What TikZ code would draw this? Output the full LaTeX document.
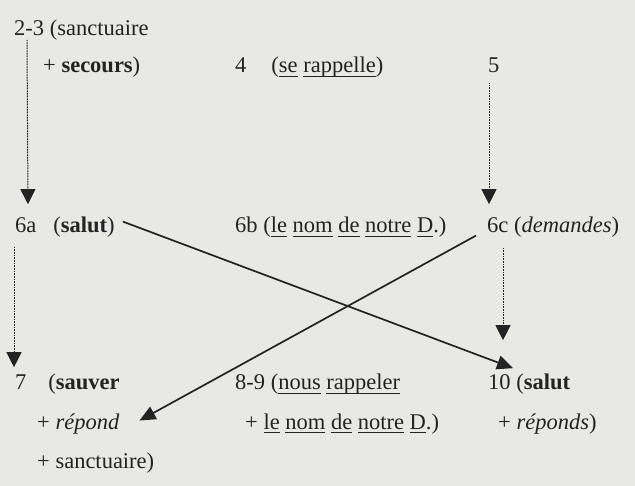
\documentclass[tikz,border=0pt]{standalone}
\usepackage{fontspec}
\setmainfont{Liberation Serif}
\usetikzlibrary{positioning, arrows.meta}
\definecolor{paper}{RGB}{232,232,229}
\definecolor{ink}{RGB}{35,35,35}
\newcommand{\undl}[1]{\underline{\smash{#1}\rule[-2pt]{0pt}{0pt}}}

\begin{document}
\begin{tikzpicture}[x=1pt, y=1pt, font=\fontsize{22.5}{27}\selectfont,
  txt/.style={anchor=base west, inner sep=0pt, text=ink},
  dotarr/.style={-{Triangle[length=15pt, width=15pt]}, ink, line width=1pt, dash pattern=on 1pt off 0.6pt},
  solarr/.style={-{Triangle[length=16pt, width=14pt]}, ink, line width=1.7pt}]
  \fill[paper] (0,0) rectangle (635,-486);
  \node[txt] (n23) at (14,-36) {2-3 (sanctuaire};
  \node[txt] (n23b) at (43,-73) {+ \textbf{secours})};
  \node[txt] (n4) at (235,-73) {4\hspace{25pt}(\undl{se} \undl{rappelle})};
  \node[txt] (n5) at (488,-73) {5};
  \node[txt] (n6a) at (15,-233) {6a\hspace{17pt}(\textbf{salut})};
  \node[txt] (n6b) at (235,-233) {6b (\undl{le} \undl{nom} \undl{de} \undl{notre} \undl{D}.)};
  \node[txt] (n6c) at (487,-233) {6c (\textit{demandes})};
  \node[txt] (n7) at (15,-390) {7\hspace{22pt}(\textbf{sauver}};
  \node[txt] (n7b) at (37,-429) {+ \textit{répond}};
  \node[txt] (n7c) at (37,-468) {+ sanctuaire)};
  \node[txt] (n89) at (235,-390) {8-9 (\undl{nous} \undl{rappeler}};
  \node[txt] (n89b) at (245,-429) {+ \undl{le} \undl{nom} \undl{de} \undl{notre} \undl{D}.)};
  \node[txt] (n10) at (488,-390) {10 (\textbf{salut}};
  \node[txt] (n10b) at (498,-429) {+ \textit{réponds})};
  \draw[dotarr] ([xshift=13pt, yshift=1pt]n23.south west) -- ([xshift=13pt, yshift=13pt]n6a.north west);
  \draw[dotarr] ([xshift=1pt, yshift=-10pt]n5.south west) -- ([xshift=2pt, yshift=13pt]n6c.north west);
  \draw[dotarr] ([xshift=-1pt, yshift=-9pt]n6a.south west) -- ([xshift=-1pt, yshift=7pt]n7.north west);
  \draw[dotarr] ([xshift=16pt, yshift=-10pt]n6c.south west) -- ([xshift=15pt, yshift=34pt]n10.north west);
  \draw[solarr] ([shift={(8pt,6pt)}]n6a.east) -- ([shift={(25pt,6pt)}]n10.north west);
  \draw[solarr] ([shift={(-11pt,-8pt)}]n6c.west) -- ([shift={(20pt,3pt)}]n7b.east);
\end{tikzpicture}
\end{document}
